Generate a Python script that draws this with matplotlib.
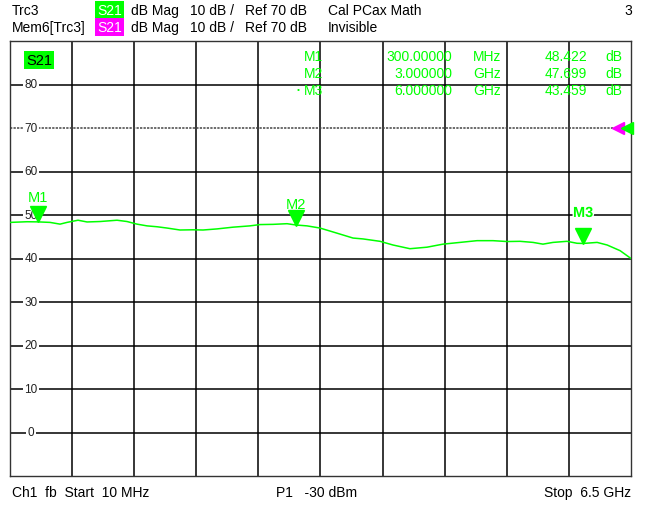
import matplotlib
matplotlib.use("Agg")
import matplotlib.pyplot as plt
import matplotlib.transforms as mtransforms
import matplotlib.patheffects as pe

plt.rcParams['font.family'] = ['Liberation Sans', 'DejaVu Sans']

# ---- data ----
freq_ghz = [0.01, 0.188, 0.30, 0.428, 0.533, 0.606, 0.721, 0.815, 0.951, 1.128,
            1.233, 1.337, 1.442, 1.546, 1.651, 1.787, 1.922, 2.027, 2.173, 2.340,
            2.518, 2.623, 2.759, 2.905, 3.0, 3.114, 3.250, 3.386, 3.595, 3.699,
            3.877, 4.013, 4.190, 4.368, 4.535, 4.713, 4.891, 5.058, 5.204, 5.340,
            5.476, 5.580, 5.685, 5.831, 5.936, 6.0, 6.146, 6.251, 6.386, 6.5]
s21_db = [48.3, 48.45, 48.42, 48.3, 47.9, 48.3, 48.8, 48.4, 48.5, 48.8,
          48.5, 47.9, 47.5, 47.3, 47.0, 46.55, 46.6, 46.55, 46.8, 47.2,
          47.5, 47.8, 47.85, 48.0, 47.7, 47.5, 47.0, 46.1, 44.7, 44.5,
          43.95, 43.1, 42.25, 42.6, 43.3, 43.7, 44.1, 44.1, 43.9, 43.95,
          43.7, 43.3, 43.7, 43.95, 43.5, 43.46, 43.7, 43.1, 41.8, 40.0]
marker_names = ["M1", "M2", "M3"]
marker_freq = [0.3, 3.0, 6.0]
marker_db = [48.422, 47.699, 43.459]
marker_freq_txt = ["300.00000", "3.000000", "6.000000"]
marker_unit = ["MHz", "GHz", "GHz"]
marker_val_txt = ["48.422", "47.699", "43.459"]
y_ticks = [0, 10, 20, 30, 40, 50, 60, 70, 80]
x_start, x_stop = 0.01, 6.5
y_min, y_max = -10, 90
ref_level = 70

GREEN = '#00ff00'
MAGENTA = '#ff00ff'

W, H = 648, 506
fig = plt.figure(figsize=(W / 100, H / 100), dpi=100)
fig.patch.set_facecolor('white')

def fx(px):
    return px / W

def fy(py):
    return 1 - py / H

left, right, top, bottom = 10, 631, 42, 477
ax = fig.add_axes([fx(left), fy(bottom), (right - left) / W, (bottom - top) / H])
ax.set_xlim(x_start, x_stop)
ax.set_ylim(y_min, y_max)

# grid
step_x = (x_stop - x_start) / 10
for i in range(1, 10):
    ax.axvline(x_start + i * step_x, color='black', lw=1.1, zorder=1)
for v in range(y_min + 10, y_max, 10):
    if v == ref_level:
        ax.axhline(v, color='#444444', lw=1.1, ls=(0, (1.5, 0.8)), zorder=1)
    else:
        ax.axhline(v, color='black', lw=1.1, zorder=1)
for s in ax.spines.values():
    s.set_color('#333333')
    s.set_linewidth(1.0)
ax.set_xticks([])
ax.set_yticks([])

# y labels inside
trans = mtransforms.blended_transform_factory(ax.transAxes, ax.transData)
for v in y_ticks:
    ax.text((31 - left) / (right - left), v, str(v), transform=trans, ha='center', va='center',
            fontsize=8.5, color='#222222', zorder=3,
            bbox=dict(facecolor='white', edgecolor='none', pad=1.0))

# trace
ax.plot(freq_ghz, s21_db, color=GREEN, lw=1.1, zorder=4)

# markers
label_offsets = [4.0, 3.2, 5.4]
for name, f, d, off in zip(marker_names, marker_freq, marker_db, label_offsets):
    ax.plot([f], [d + 1.7], marker='v', markersize=11, color=GREEN, markeredgecolor=GREEN,
            zorder=5, clip_on=False)
    t = ax.text(f, d + off, name, ha='center', va='bottom', fontsize=10.5, color=GREEN, zorder=5)
    if name == "M3":
        t.set_fontweight('bold')
        t.set_path_effects([pe.withStroke(linewidth=2, foreground='white')])

# reference arrows at right
ax.plot([x_stop - 0.14], [ref_level], marker='<', markersize=8, color=MAGENTA,
        markeredgecolor=MAGENTA, clip_on=False, zorder=6)
ax.plot([x_stop - 0.04], [ref_level], marker='<', markersize=8, color=GREEN,
        markeredgecolor=GREEN, clip_on=False, zorder=6)

# S21 label inside the plot
fig.text(fx(26), fy(61), "S21", fontsize=10.5, color='black', ha='left', va='center',
         bbox=dict(facecolor=GREEN, edgecolor='none', pad=1.5))

# marker table
rows_y = [57, 74, 91]
for name, ftxt, unit, vtxt, ry in zip(marker_names, marker_freq_txt, marker_unit, marker_val_txt, rows_y):
    fig.text(fx(304), fy(ry), name, fontsize=10, color=GREEN, ha='left', va='center')
    fig.text(fx(452), fy(ry), ftxt, fontsize=10, color=GREEN, ha='right', va='center')
    fig.text(fx(473), fy(ry), unit, fontsize=10, color=GREEN, ha='left', va='center')
    fig.text(fx(587), fy(ry), vtxt, fontsize=10, color=GREEN, ha='right', va='center')
    fig.text(fx(605), fy(ry), "dB", fontsize=10, color=GREEN, ha='left', va='center')
fig.text(fx(297), fy(91), "\u2022", fontsize=6, color=GREEN, ha='left', va='center')

# header
hfs = 10
y1, y2 = 11, 28
fig.text(fx(12), fy(y1), "Trc3", fontsize=hfs, ha='left', va='center')
fig.text(fx(12), fy(y2), "Mem6[Trc3]", fontsize=hfs, ha='left', va='center')
fig.text(fx(97), fy(y1), "S21", fontsize=hfs, color='white', ha='left', va='center',
         bbox=dict(facecolor=GREEN, edgecolor='none', pad=1.5))
fig.text(fx(97), fy(y2), "S21", fontsize=hfs, color='white', ha='left', va='center',
         bbox=dict(facecolor=MAGENTA, edgecolor='none', pad=1.5))
for yy in (y1, y2):
    fig.text(fx(131), fy(yy), "dB Mag", fontsize=hfs, ha='left', va='center')
    fig.text(fx(190), fy(yy), "10 dB /", fontsize=hfs, ha='left', va='center')
    fig.text(fx(245), fy(yy), "Ref 70 dB", fontsize=hfs, ha='left', va='center')
fig.text(fx(328), fy(y1), "Cal PCax Math", fontsize=hfs, ha='left', va='center')
fig.text(fx(328), fy(y2), "Invisible", fontsize=hfs, ha='left', va='center')
fig.text(fx(632), fy(y1), "3", fontsize=hfs, ha='right', va='center')

# footer
yf = 493
fig.text(fx(12), fy(yf), "Ch1  fb  Start  10 MHz", fontsize=hfs, ha='left', va='center')
fig.text(fx(276), fy(yf), "P1   -30 dBm", fontsize=hfs, ha='left', va='center')
fig.text(fx(631), fy(yf), "Stop  6.5 GHz", fontsize=hfs, ha='right', va='center')

fig.savefig("out.png", dpi=100)
